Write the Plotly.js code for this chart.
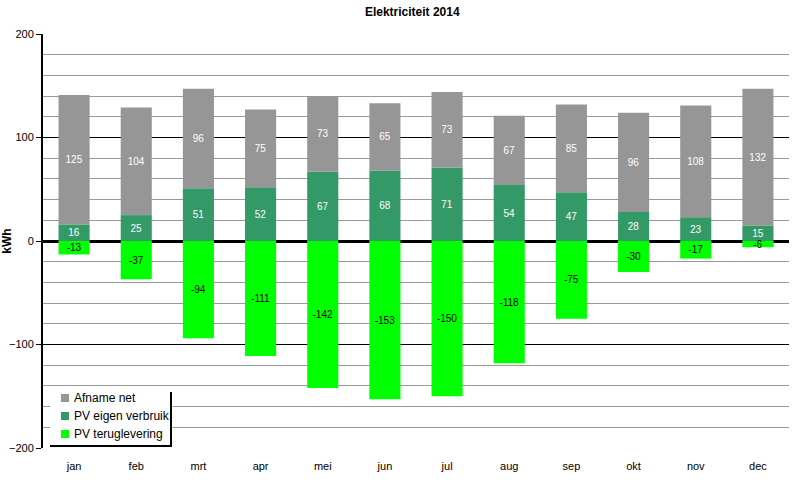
<!DOCTYPE html>
<html>
<head>
<meta charset="utf-8">
<script src="https://cdn.plot.ly/plotly-3.0.1.min.js"></script>
<style>html,body{margin:0;padding:0;background:#fff;}#chart{width:800px;height:480px;}</style>
</head>
<body>
<div id="chart"></div>
<script>
var months = ['jan','feb','mrt','apr','mei','jun','jul','aug','sep','okt','nov','dec'];
var afnameNet = [125,104,96,75,73,65,73,67,85,96,108,132];
var pvEigen = [16,25,51,52,67,68,71,54,47,28,23,15];
var pvTerug = [-13,-37,-94,-111,-142,-153,-150,-118,-75,-30,-17,-6];
var seriesNames = ['Afname net', 'PV eigen verbruik', 'PV teruglevering'];
var seriesColors = ['#969696', '#339966', '#00ff00'];

var font = 'Liberation Sans, Arial, sans-serif';
var W = 800, H = 480, M = {l: 43, r: 11, t: 34, b: 32};
function px(x) { return (x - M.l) / (W - M.l - M.r); }
function py(y) { return (H - M.b - y) / (H - M.t - M.b); }

function barTrace(name, y, color, textColor) {
  return {
    type: 'bar', name: name, x: months, y: y,
    marker: {color: color, line: {width: 0}},
    text: y.map(String), texttemplate: '%{text}',
    textposition: 'inside', insidetextanchor: 'middle',
    constraintext: 'none', textangle: 0,
    textfont: {family: font, size: 10, color: textColor},
    hoverinfo: 'skip', showlegend: false
  };
}
var data = [
  barTrace(seriesNames[1], pvEigen, seriesColors[1], '#ffffff'),
  barTrace(seriesNames[0], afnameNet, seriesColors[0], '#ffffff'),
  barTrace(seriesNames[2], pvTerug, seriesColors[2], '#000000')
];

// custom legend (Excel style, with shadow)
var shapes = [
  {type: 'rect', xref: 'paper', yref: 'paper', layer: 'above',
   x0: px(50), x1: px(171), y0: py(390), y1: py(445), fillcolor: '#ffffff', line: {width: 0}},
  {type: 'line', xref: 'paper', yref: 'paper', layer: 'above',
   x0: px(171), x1: px(171), y0: py(392), y1: py(447), line: {color: '#000', width: 2}},
  {type: 'line', xref: 'paper', yref: 'paper', layer: 'above',
   x0: px(50), x1: px(172), y0: py(446), y1: py(446), line: {color: '#000', width: 2}}
];
var annotations = [];
var rowY = [398, 416, 434];
seriesNames.forEach(function (n, i) {
  shapes.push({type: 'rect', xref: 'paper', yref: 'paper', layer: 'above',
    x0: px(61), x1: px(69), y0: py(rowY[i] + 4), y1: py(rowY[i] - 4),
    fillcolor: seriesColors[i], line: {width: 0}});
  annotations.push({xref: 'paper', yref: 'paper', x: px(72), y: py(rowY[i]),
    xanchor: 'left', yanchor: 'middle', showarrow: false, text: n,
    font: {family: font, size: 12, color: '#000'}});
});

var layout = {
  width: W, height: H,
  margin: M,
  paper_bgcolor: '#ffffff', plot_bgcolor: '#ffffff',
  barmode: 'relative', bargap: 0.5,
  font: {family: font, size: 11, color: '#000'},
  title: {text: '<b>Elektriciteit 2014</b>', font: {family: font, size: 12, color: '#000'},
          x: 0.495, xref: 'paper', xanchor: 'center', y: 0.975, yanchor: 'middle'},
  xaxis: {showgrid: false, showline: false, ticks: '', zeroline: false,
          tickfont: {family: font, size: 11}, ticklabelstandoff: 10},
  yaxis: {range: [-200, 200], dtick: 100, tick0: 0, showgrid: true, gridcolor: '#000', gridwidth: 1,
          minor: {dtick: 20, showgrid: true, gridcolor: '#999999', gridwidth: 1},
          zeroline: true, zerolinecolor: '#000', zerolinewidth: 3,
          showline: true, linecolor: '#000', linewidth: 2, ticks: 'outside', ticklen: 5, tickcolor: '#000',
          tickfont: {family: font, size: 11},
          title: {text: '<b>kWh</b>', font: {family: font, size: 12}, standoff: 2}},
  showlegend: false,
  shapes: shapes,
  annotations: annotations
};
Plotly.newPlot('chart', data, layout, {displayModeBar: false, staticPlot: true});
</script>
</body>
</html>
